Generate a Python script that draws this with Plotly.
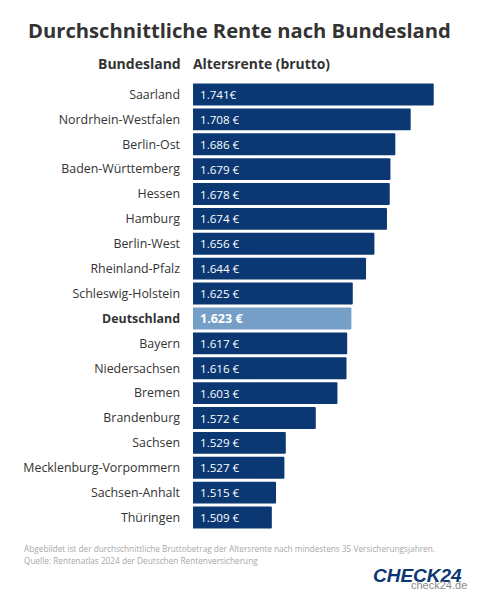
import plotly.graph_objects as go

states = ['Saarland', 'Nordrhein-Westfalen', 'Berlin-Ost', 'Baden-Württemberg', 'Hessen', 'Hamburg',
          'Berlin-West', 'Rheinland-Pfalz', 'Schleswig-Holstein', 'Deutschland', 'Bayern', 'Niedersachsen',
          'Bremen', 'Brandenburg', 'Sachsen', 'Mecklenburg-Vorpommern', 'Sachsen-Anhalt', 'Thüringen']
rente = [1741, 1708, 1686, 1679, 1678, 1674, 1656, 1644, 1625, 1623, 1617, 1616, 1603, 1572, 1529, 1527, 1515, 1509]
labels = ['1.741€', '1.708 €', '1.686 €', '1.679 €', '1.678 €', '1.674 €', '1.656 €', '1.644 €', '1.625 €',
          '1.623 €', '1.617 €', '1.616 €', '1.603 €', '1.572 €', '1.529 €', '1.527 €', '1.515 €', '1.509 €']

FONT = 'Open Sans'
DARK = '#0b3873'
LIGHT = '#769fc8'
TEXT = '#333333'
GREY = '#a8a8a8'

W, H = 479, 600
L, R, T, B = 193, 39, 82, 70

colors = [LIGHT if s == 'Deutschland' else DARK for s in states]
ticktext = ['<b>%s</b>' % s if s == 'Deutschland' else s for s in states]

fig = go.Figure(go.Bar(
    x=rente,
    y=states,
    orientation='h',
    marker=dict(color=colors, line=dict(width=0), cornerradius=1),
    width=0.88,
    hoverinfo='skip',
))

# werte in den balken, links ausgerichtet
for s, lab in zip(states, labels):
    is_total = s == 'Deutschland'
    fig.add_annotation(
        x=0, xref='paper', y=s, yref='y', text='<b>%s</b>' % lab if is_total else lab,
        xanchor='left', xshift=5, showarrow=False,
        font=dict(family=FONT, size=12.5 if is_total else 11.6, color='white'),
    )


def page_text(txt, x, y, anchor, size, color, family=FONT):
    # x, y in pixels of the page, paper coords refer to the plot area
    fig.add_annotation(x=(x - L) / (W - L - R), y=(H - B - y) / (H - T - B), xref='paper', yref='paper',
                       text=txt, xanchor=anchor, yanchor='middle', showarrow=False,
                       font=dict(family=family, size=size, color=color))


page_text('<b>Durchschnittliche Rente nach Bundesland</b>', 239, 30, 'center', 20.2, TEXT)
page_text('<b>Bundesland</b>', 183, 63, 'right', 14, TEXT)
page_text('<b>Altersrente (brutto)</b>', 191, 63, 'left', 13.9, TEXT)
page_text('Abgebildet ist der durchschnittliche Bruttobetrag der Altersrente nach mindestens 35 Versicherungsjahren.',
          22, 548, 'left', 8.25, GREY)
page_text('Quelle: Rentenatlas 2024 der Deutschen Rentenversicherung', 22, 560, 'left', 8.25, GREY)
page_text('<b><i>CHECK24</i></b>', 417, 575, 'center', 19, DARK, 'Liberation Sans')
page_text('check24.de', 439, 585, 'center', 11, '#8a8a8a', 'Liberation Sans')

fig.update_layout(
    width=W,
    height=H,
    margin=dict(l=L, r=R, t=T, b=B, autoexpand=False),
    paper_bgcolor='white',
    plot_bgcolor='white',
    showlegend=False,
    xaxis=dict(range=[1396, 1750], visible=False),
    yaxis=dict(autorange='reversed', tickmode='array', tickvals=states, ticktext=ticktext, ticks='',
               showline=False, showgrid=False, tickfont=dict(family=FONT, size=12.4, color=TEXT),
               ticklabelstandoff=12),
)

fig.write_html('out.html', config=dict(displayModeBar=False), post_script="document.body.style.margin='0'")
